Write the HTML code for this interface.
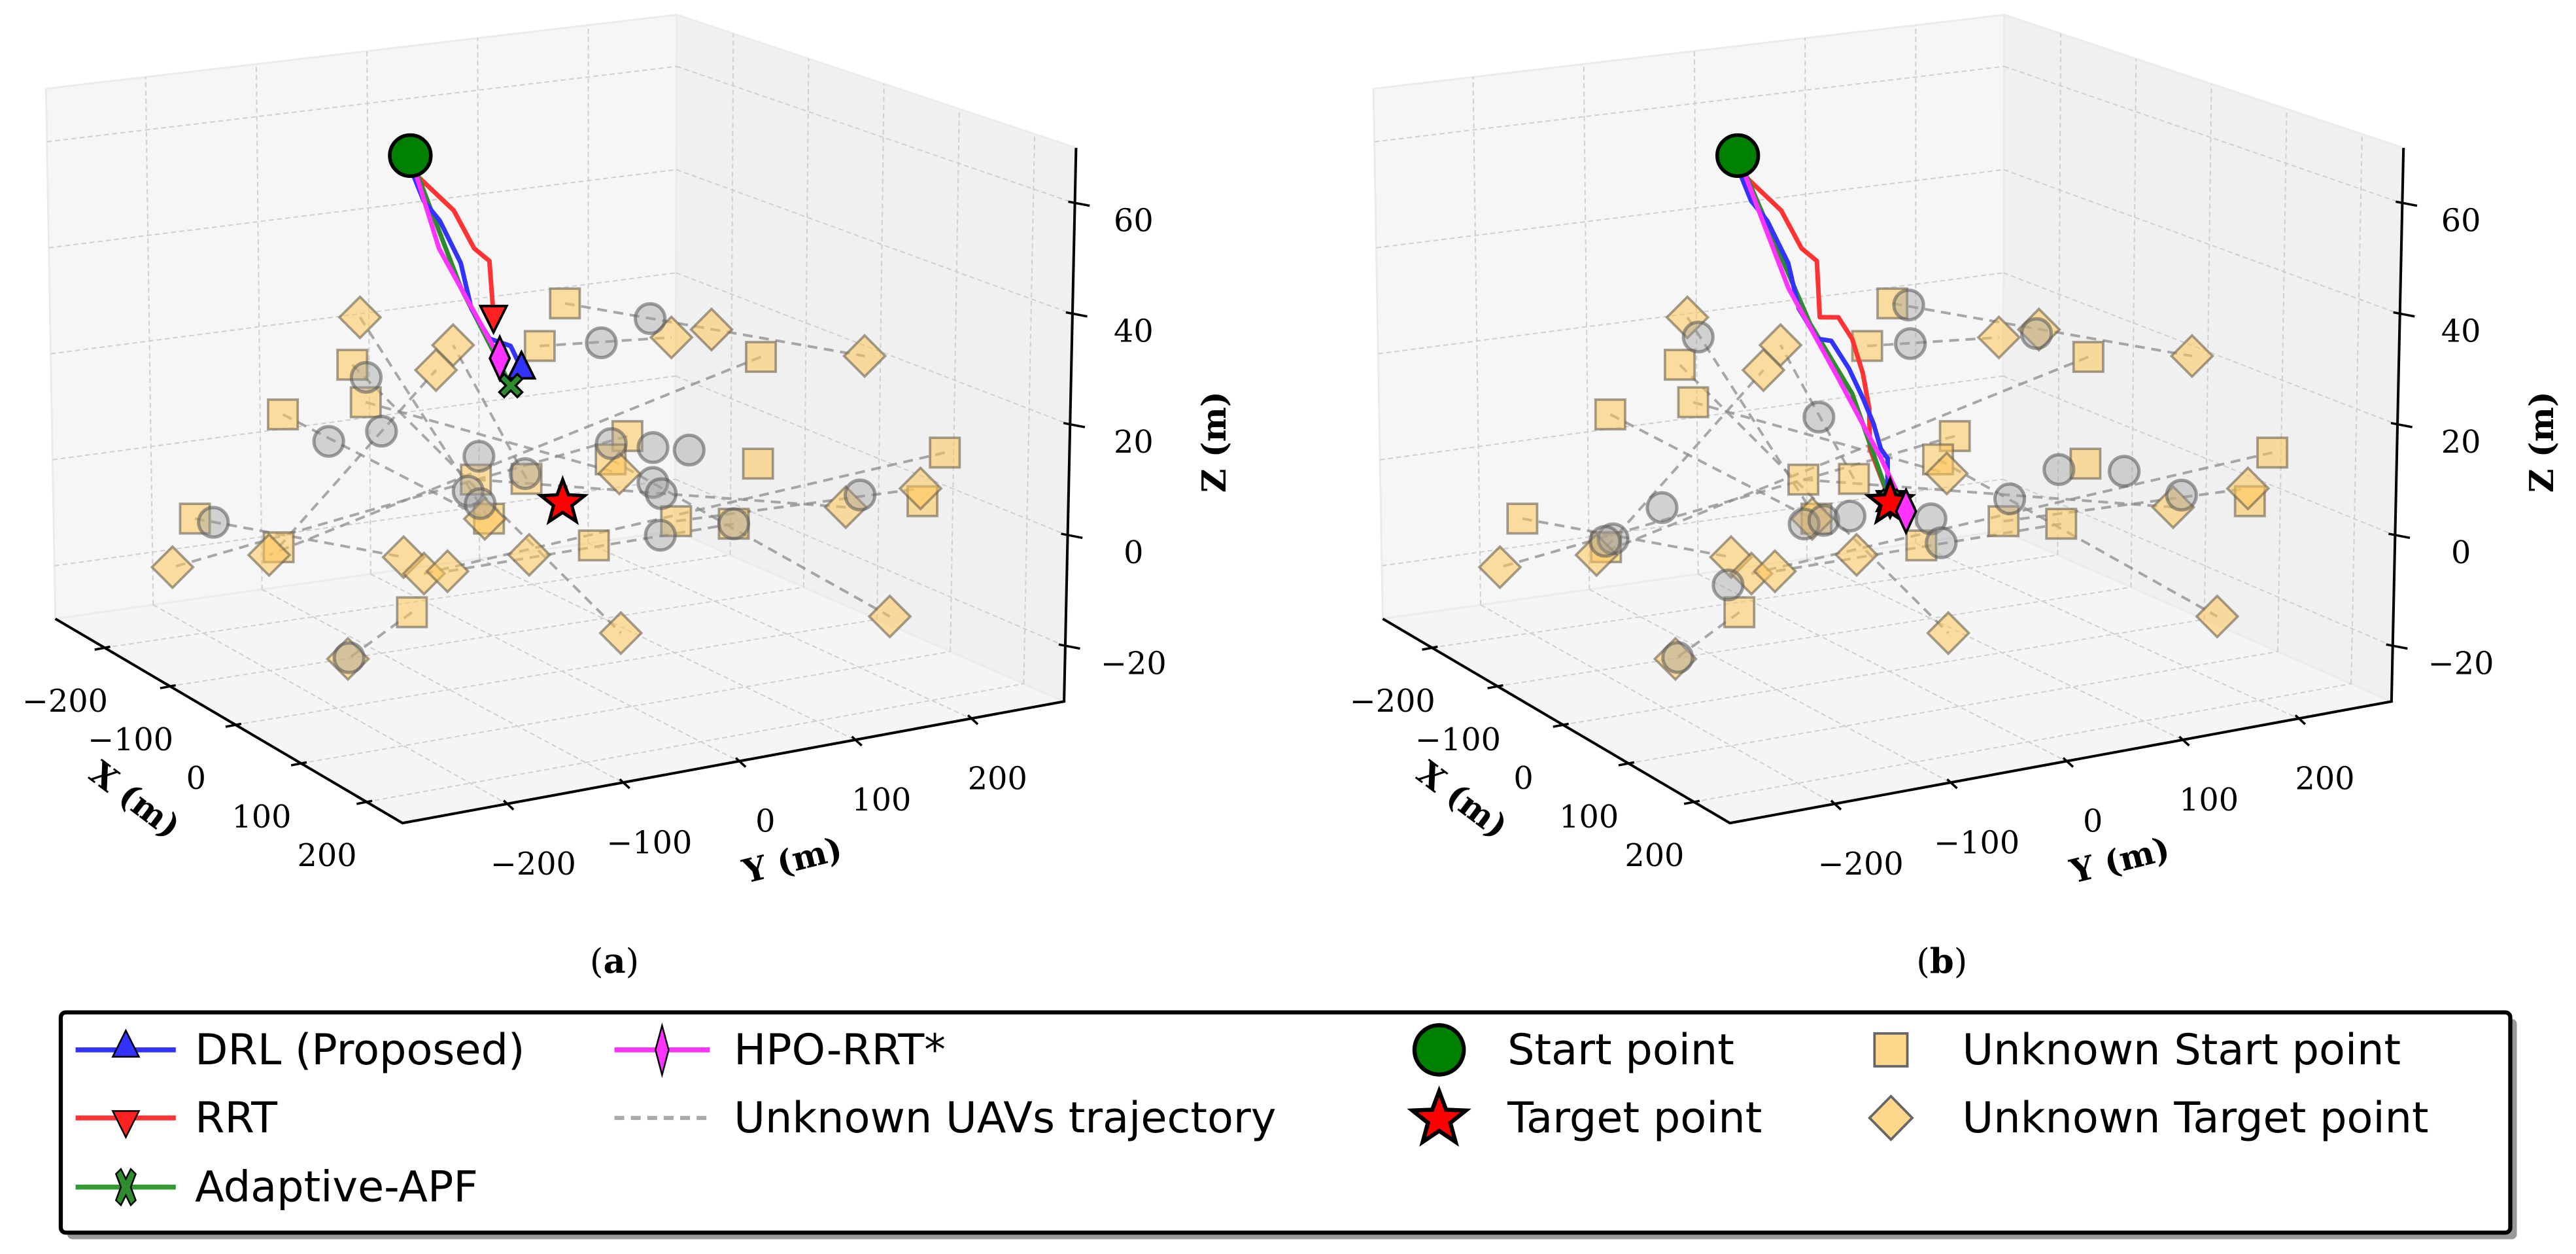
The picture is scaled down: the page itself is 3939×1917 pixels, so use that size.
<!DOCTYPE html>
<html><head><meta charset="utf-8"><style>
html,body{margin:0;padding:0;background:#fff;}
svg{display:block;}
.tick{font-family:"DejaVu Serif","Liberation Serif",serif;font-size:19px;fill:#000;}
.axlab{font-family:"DejaVu Serif","Liberation Serif",serif;font-size:20px;font-weight:bold;fill:#000;}
.leg{font-family:"DejaVu Sans","Liberation Sans",sans-serif;font-size:26px;fill:#000;}
.cap{font-family:"DejaVu Serif","Liberation Serif",serif;font-size:21px;fill:#000;}
</style></head><body>
<svg id="fig" xmlns="http://www.w3.org/2000/svg" width="3939" height="1917" viewBox="0 0 1568 763" preserveAspectRatio="none">
<rect x="0" y="0" width="1568" height="763" fill="#fff"/>
<g id="panelA"></g>
<g id="panelB"></g>
<text class="cap" x="374" y="592" text-anchor="middle">(<tspan font-weight="bold">a</tspan>)</text>
<text class="cap" x="1182" y="592" text-anchor="middle">(<tspan font-weight="bold">b</tspan>)</text>
<g>
<rect x="41" y="620" width="1491" height="134" rx="3" fill="#999"/>
<rect x="37" y="616" width="1491" height="134" rx="3" fill="#fff" stroke="#000" stroke-width="2.5"/>
<g>
<line x1="46" y1="638.8" x2="107" y2="638.8" stroke="#3333ff" stroke-width="3"/>
<polygon points="76.6,627 84.6,643 68.6,643" fill="#3333ff" stroke="#000" stroke-width="1"/>
<text class="leg" x="118.7" y="647.5">DRL (Proposed)</text></g>
<g>
<line x1="46" y1="680.2" x2="107" y2="680.2" stroke="#ff3333" stroke-width="3"/>
<polygon points="76.6,692 84.6,676 68.6,676" fill="#ff2020" stroke="#000" stroke-width="1"/>
<text class="leg" x="118.7" y="689">RRT</text></g>
<g>
<line x1="46" y1="722.3" x2="107" y2="722.3" stroke="#339933" stroke-width="3"/>
<path d="M70.6,714.3 L73.6,711.3 L76.6,717.3 L79.6,711.3 L82.6,714.3 L79.6,722.3 L82.6,730.3 L79.6,733.3 L76.6,727.3 L73.6,733.3 L70.6,730.3 L73.6,722.3 Z" fill="#2e8b2e" stroke="#000" stroke-width="1"/>
<text class="leg" x="118.7" y="731">Adaptive-APF</text></g>
<g>
<line x1="374" y1="638.8" x2="432" y2="638.8" stroke="#ff33ff" stroke-width="3"/>
<polygon points="403,624 407,638.8 403,654 399,638.8" fill="#ff33ff" stroke="#000" stroke-width="1"/>
<text class="leg" x="446.7" y="647.5">HPO-RRT*</text></g>
<g>
<line x1="374" y1="680.2" x2="432" y2="680.2" stroke="#aaa" stroke-width="2.5" stroke-dasharray="6,4"/>
<text class="leg" x="446.7" y="689">Unknown UAVs trajectory</text></g>
<g>
<circle cx="876" cy="638.8" r="15" fill="#008000" stroke="#000" stroke-width="2.5"/>
<text class="leg" x="917.6" y="647.5">Start point</text></g>
<g>
<polygon id="legStar" fill="#ff0000" stroke="#000" stroke-width="2.5"/>
<text class="leg" x="917.6" y="689">Target point</text></g>
<g>
<rect x="1141" y="628.8" width="20" height="20" fill="#ffc658" fill-opacity="0.7" stroke="#666" stroke-width="1.5"/>
<text class="leg" x="1194.4" y="647.5">Unknown Start point</text></g>
<g>
<polygon points="1151,667 1164,680.2 1151,693.4 1138,680.2" fill="#ffc658" fill-opacity="0.7" stroke="#666" stroke-width="1.5"/>
<text class="leg" x="1194.4" y="689">Unknown Target point</text></g>
</g>
</svg>
<script>
// ---------- data ----------
const startPt = [-91, -88, 60];
const targetPt = [108, -69, 10];
const xTicks = [-200, -100, 0, 100, 200];
const yTicks = [-200, -100, 0, 100, 200];
const zTicks = [-20, 0, 20, 40, 60];
const xTickLabels = ["\u2212200", "\u2212100", "0", "100", "200"];
const yTickLabels = ["\u2212200", "\u2212100", "0", "100", "200"];
const zTickLabels = ["\u221220", "0", "20", "40", "60"];
const unknownStarts = [
 [-282,153,10],[-207,89,10],[-105,222,10],[-238,-55,10],[-159,-88,10],[-165,-156,10],
 [3,46,10],[43,9,10],[105,101,10],[151,236,10],[34,-102,10],[51,-68,10],[9,-330,10],
 [116,-137,10],[189,-17,10],[215,18,10],[239,167,10],[96,-307,10],[207,-98,10],[273,-292,10]];
const unknownTargets = [
 [-329,3,10],[-240,33,10],[-176,185,10],[-177,220,10],[-69,291,10],[-197,-6,10],
 [74,-1,10],[213,180,10],[223,110,10],[115,-140,10],[97,-399,10],[108,-322,10],
 [161,-236,10],[201,-241,10],[205,-223,10],[202,-151,10],[390,-178,10],[455,17,10],[342,-386,10]];
const uavPairs = [[13,0],[11,1],[1,2],[0,4],[2,11],[5,9],[4,6],[12,12],[17,5],[9,13],[15,14],[3,16],[7,17],[10,8],[14,7],[19,18],[6,10]];
const uavNowA = [
 [-221,192,10],[-191,133,10],[-208,-60,10],[-96,-110,10],[-95,-156,10],[-11,-74,10],
 [12,27,10],[35,50,10],[53,71,10],[40,-63,10],[54,-120,10],[83,-126,10],[104,11,10],
 [129,4,10],[204,133,10],[215,18,10],[211,-43,10],[23,-322,10],[340,-384,10]];
const uavNowB = [
 [-273,162,10],[-286,-12,10],[-196,120,10],[-170,214,10],[-84,-22,10],[38,-226,10],
 [82,-293,10],[84,-301,10],[122,-151,10],[122,-134,10],[123,-112,10],[158,-62,10],
 [209,-82,10],[147,12,10],[107,77,10],[134,118,10],[202,129,10],[215,-269,10],[340,-383,10]];
const drlA = [startPt,[-80,-91,57],[-67,-90,53.5],[-53,-84,50.6],[-28,-80,44.4],[-5,-84,37.9],[14,-79,33.5],[25,-67,32.5],[38,-65,29.2]];
const rrtA = [startPt,[-79,-88,57],[-53,-72,52],[-29,-68,46.6],[-18,-61,44.8],[6,-71,36.8]];
const apfA = [startPt,[-17,-86,40.8],[41,-76,26.7]];
const hpoA = [startPt,[-42,-91,46.6],[26,-77,30.7]];
const drlB = [startPt,[-80,-91,57],[-67,-90,53.5],[-53,-84,50.6],[-28,-80,44.4],[-5,-84,37.9],[14,-79,33.5],[20,-70,33.2],[38,-65,29.2],[56,-63,24.9],[70,-62,21.3],[83,-63,17.6],[90,-61,16.2],[104,-69,11.2],[108,-69,10]];
const rrtB = [startPt,[-79,-88,57],[-53,-72,52],[-29,-68,46.6],[-18,-61,44.8],[6,-72,36.6],[13,-60,36.6],[27,-56,33.5],[45,-57,28.5],[62,-61,23.4],[79,-70,17.6],[108,-69,10]];
const apfB = [startPt,[5,-80,35.7],[50,-69,25.6],[108,-69,10]];
const hpoB = [startPt,[-17,-86,40.8],[38,-74,27.7],[87,-65,16.2],[134,-70,10]];

// ---------- axes geometry ----------
const XMIN=-275, XMAX=255, YMIN=-290, YMAX=280, ZMIN=-30, ZMAX=70;
function proj(p, off){
  const x=p[0], y=p[1], z=p[2];
  return [off + 348.2 + 0.3987*x + 0.7065*y, 403.4 + 0.2345*x - 0.1298*y - 3.32*(z - ZMIN)];
}
const cL=[33.7,376.5], cF=[245.0,500.8], cR=[647.7,426.8], cB=[411,323];
const tL=[28,54], tB=[412,9], tR=[655,90];
function lerp(a,b,t){return [a[0]+(b[0]-a[0])*t, a[1]+(b[1]-a[1])*t];}
function ux(x){return (x-XMIN)/(XMAX-XMIN);}
function vy(y){return (y-YMIN)/(YMAX-YMIN);}
function wz(z){return (z-ZMIN)/(ZMAX-ZMIN);}

const NS='http://www.w3.org/2000/svg';
function mk(tag, attrs, parent){
  const e=document.createElementNS(NS,tag);
  for(const k in attrs) e.setAttribute(k, attrs[k]);
  parent.appendChild(e);
  return e;
}
function pts(arr){return arr.map(a=>a[0].toFixed(1)+','+a[1].toFixed(1)).join(' ');}
function sh(p,off){return [p[0]+off,p[1]];}
function starPts(cx,cy,R){
  const r=R*0.42, out=[];
  for(let i=0;i<10;i++){const a=-Math.PI/2+i*Math.PI/5; const rr=i%2?r:R; out.push((cx+rr*Math.cos(a)).toFixed(1)+','+(cy+rr*Math.sin(a)).toFixed(1));}
  return out.join(' ');
}
document.getElementById('legStar').setAttribute('points', starPts(876,681,17));

function drawPanel(g, off, uavNow, drl, rrt, apf, hpo, letter){
  const lw = mk('polygon',{points:pts([sh(cL,off),sh(cB,off),sh(tB,off),sh(tL,off)]),fill:'#f6f6f6',stroke:'#ebebeb','stroke-width':1.2},g);
  
  
  const rw = mk('polygon',{points:pts([sh(cB,off),sh(cR,off),sh(tR,off),sh(tB,off)]),fill:'#f0f0f0',stroke:'#ebebeb','stroke-width':1.2},g);
  
  
  const fl = mk('polygon',{points:pts([sh(cL,off),sh(cF,off),sh(cR,off),sh(cB,off)]),fill:'#f5f5f5',stroke:'#ebebeb','stroke-width':1.2},g);
  
  
  const grid = mk('g',{stroke:'#cfcfcf','stroke-width':0.8,'stroke-dasharray':'3,2',fill:'none'},g);
  
  
  function gl(a,b){const l=mk('line',{x1:a[0]+off,y1:a[1],x2:b[0]+off,y2:b[1]},grid);
    
    }
  xTicks.forEach(x=>{const u=ux(x);
    gl(lerp(cL,cF,u), lerp(cB,cR,u));
    gl(lerp(cB,cR,u), lerp(tB,tR,u));});
  yTicks.forEach(y=>{const v=vy(y);
    gl(lerp(cL,cB,v), lerp(cF,cR,v));
    gl(lerp(cL,cB,v), lerp(tL,tB,v));});
  zTicks.forEach(z=>{const w=wz(z);
    gl(lerp(cL,tL,w), lerp(cB,tB,w));
    gl(lerp(cB,tB,w), lerp(cR,tR,w));});
  const ax = mk('polyline',{points:pts([sh(cL,off),sh(cF,off),sh(cR,off),sh(tR,off)]),fill:'none',stroke:'#000','stroke-width':1.6},g);
  
  
  xTicks.forEach((x,i)=>{const p=lerp(cL,cF,ux(x));
    const t=mk('line',{x1:p[0]+off+3.5,y1:p[1]-0.6,x2:p[0]+off-6,y2:p[1]+1.2,stroke:'#000','stroke-width':1.4},g);
    
    
    const tx=mk('text',{x:p[0]+off-24,y:p[1]+39,'text-anchor':'middle',class:'tick'},g);
    tx.textContent=xTickLabels[i];
    
    });
  yTicks.forEach((y,i)=>{const p=lerp(cF,cR,vy(y));
    const t=mk('line',{x1:p[0]+off-2,y1:p[1]-2,x2:p[0]+off+4,y2:p[1]+3.5,stroke:'#000','stroke-width':1.4},g);
    
    
    const tx=mk('text',{x:p[0]+off+16,y:p[1]+43,'text-anchor':'middle',class:'tick'},g);
    tx.textContent=yTickLabels[i];
    
    });
  zTicks.forEach((z,i)=>{const p=lerp(cR,tR,wz(z));
    const t=mk('line',{x1:p[0]+off-4,y1:p[1]-1,x2:p[0]+off+9,y2:p[1]+1.5,stroke:'#000','stroke-width':1.4},g);
    
    
    const tx=mk('text',{x:690+off,y:p[1]+17,'text-anchor':'middle',class:'tick'},g);
    tx.textContent=zTickLabels[i];
    
    });
  const xl=mk('text',{x:0,y:0,'text-anchor':'middle',class:'axlab',transform:'translate('+(78+off)+',492) rotate(37)'},g);
  xl.textContent='X (m)';
  
  
  const yl=mk('text',{x:0,y:0,'text-anchor':'middle',class:'axlab',transform:'translate('+(484+off)+',530) rotate(-14)'},g);
  yl.textContent='Y (m)';
  
  
  const zl=mk('text',{x:0,y:0,'text-anchor':'middle',class:'axlab',transform:'translate('+(746+off)+',269) rotate(-90)'},g);
  zl.textContent='Z (m)';
  
  

  uavPairs.forEach(pr=>{const a=proj(unknownStarts[pr[0]],off), b=proj(unknownTargets[pr[1]],off);
    const l=mk('line',{x1:a[0],y1:a[1],x2:b[0],y2:b[1],stroke:'#8c8c8c','stroke-opacity':0.75,'stroke-width':1.6,'stroke-dasharray':'6,4'},g);
    
    });
  unknownStarts.forEach(p=>{const q=proj(p,off);
    const s=mk('rect',{x:q[0]-9,y:q[1]-9,width:18,height:18,fill:'#ffc658','fill-opacity':0.55,stroke:'#6b6150','stroke-opacity':0.6,'stroke-width':1.5},g);
    
    });
  unknownTargets.forEach(p=>{const q=proj(p,off);
    const d=mk('polygon',{points:pts([[q[0],q[1]-12.5],[q[0]+12.5,q[1]],[q[0],q[1]+12.5],[q[0]-12.5,q[1]]]),fill:'#ffc658','fill-opacity':0.55,stroke:'#6b6150','stroke-opacity':0.6,'stroke-width':1.5},g);
    
    });
  uavNow.forEach(p=>{const q=proj(p,off);
    const c=mk('circle',{cx:q[0],cy:q[1],r:9,fill:'#9a9a9a','fill-opacity':0.4,stroke:'#555','stroke-opacity':0.55,'stroke-width':2},g);
    
    });

  function path(arr,color,name){const pl=mk('polyline',{points:pts(arr.map(p=>proj(p,off))),fill:'none',stroke:color,'stroke-width':2.8,'stroke-linejoin':'round'},g);
    
    }
  path(rrt,'#ff3333','rrt-path');
  path(apf,'#2e8b2e','adaptive-apf-path');
  path(drl,'#3333ff','drl-path');
  path(hpo,'#ff33ff','hpo-rrt-star-path');
  let e=proj(drl[drl.length-1],off);
  const m1=mk('polygon',{points:pts([[e[0],e[1]-10],[e[0]+8,e[1]+6],[e[0]-8,e[1]+6]]),fill:'#3333ff',stroke:'#000','stroke-width':1.5},g);
  
  
  e=proj(rrt[rrt.length-1],off);
  const m2=mk('polygon',{points:pts([[e[0],e[1]+10],[e[0]+8,e[1]-6],[e[0]-8,e[1]-6]]),fill:'#ff2020',stroke:'#000','stroke-width':1.5},g);
  
  
  e=proj(apf[apf.length-1],off);
  const s=7,t=3, xs=[[-s,-s+t],[-s+t,-s],[0,-t],[s-t,-s],[s,-s+t],[t,0],[s,s-t],[s-t,s],[0,t],[-s+t,s],[-s,s-t],[-t,0]];
  const m3=mk('polygon',{points:pts(xs.map(a=>[e[0]+a[0],e[1]+a[1]])),fill:'#2e8b2e',stroke:'#000','stroke-width':1.3},g);
  
  
  e=proj(hpo[hpo.length-1],off);
  const m4=mk('polygon',{points:pts([[e[0],e[1]-13],[e[0]+6,e[1]],[e[0],e[1]+13],[e[0]-6,e[1]]]),fill:'#ff33ff',stroke:'#000','stroke-width':1.5},g);
  
  
  const sp=proj(startPt,off);
  const st=mk('circle',{cx:sp[0],cy:sp[1],r:12.5,fill:'#008000',stroke:'#000','stroke-width':2.2},g);
  
  
  const tp=proj(targetPt,off);
  const tg=mk('polygon',{points:starPts(tp[0],tp[1]+1,14),fill:'#ff0000',stroke:'#000','stroke-width':2},g);
  
  
  if(letter==='b'){ g.appendChild(m4); }
}
drawPanel(document.getElementById('panelA'), 0, uavNowA, drlA, rrtA, apfA, hpoA, 'a');
drawPanel(document.getElementById('panelB'), 808, uavNowB, drlB, rrtB, apfB, hpoB, 'b');
</script>
</body></html>
